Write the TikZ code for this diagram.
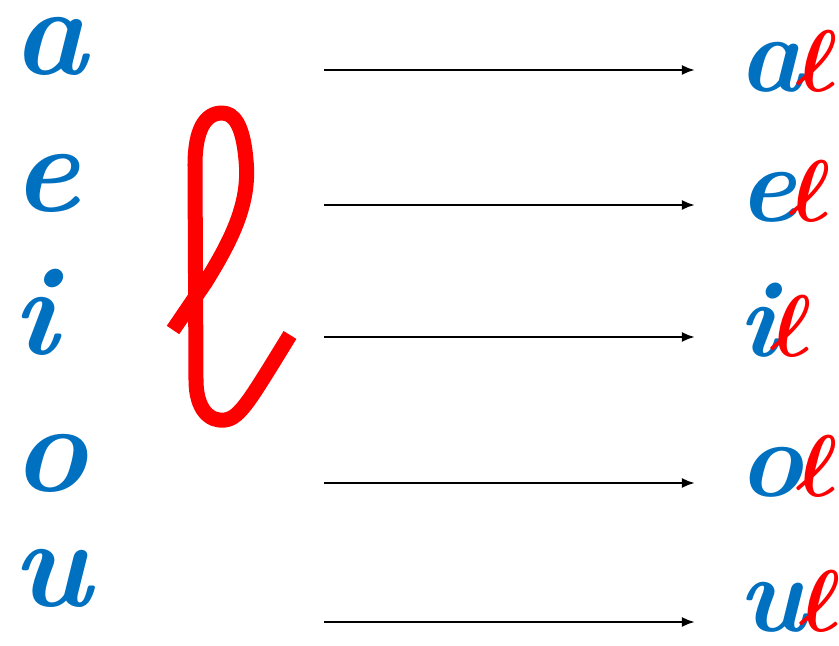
\documentclass[tikz,border=0pt]{standalone}
\usepackage{amsmath,amssymb}
\usetikzlibrary{arrows.meta,positioning}
\definecolor{vblue}{HTML}{0070C0}
\definecolor{lred}{HTML}{FF0000}
\tikzset{
  >=Latex,
  vowel/.style={
    text=vblue, anchor=base west, inner sep=0pt,
    font=\fontsize{36}{36}\selectfont\bfseries\itshape
  },
  syll/.style={
    text=vblue, anchor=base west, inner sep=0pt,
    font=\fontsize{31}{31}\selectfont\bfseries\itshape
  },
  arr/.style={-{Latex[length=1.3mm,width=1mm]}, line width=0.7pt, draw=black},
  bigl/.style={draw=lred, line width=0.15cm, line cap=butt, line join=round}
}
\newcommand{\redl}{\kern-2pt{\color{lred}\fontsize{25}{25}\selectfont$\boldsymbol{\ell}$}}

\begin{document}
\begin{tikzpicture}[x=0.01cm,y=-0.01cm]
  \useasboundingbox (0,0) rectangle (839,646);
  % vowels
  \node[vowel] (va) at (12,75) {a};
  \node[vowel] (ve) at (12,212) {e};
  \node[vowel] (vi) at (12,355) {i};
  \node[vowel] (vo) at (12,492) {o};
  \node[vowel] (vu) at (12,607) {u};
  % the big l
  \draw[bigl] (173,330) -- (205,283)
    .. controls (235,235) and (250,200) .. (246,160)
    .. controls (243,125) and (234,113) .. (222,113)
    .. controls (205,113) and (195,130) .. (195,165)
    -- (196,380)
    .. controls (196,410) and (210,422) .. (225,420)
    .. controls (240,418) and (250,400) .. (290,335);
  % arrows
  \coordinate (s1) at (324,70);  \coordinate (t1) at (695,70);
  \coordinate (s2) at (324,205); \coordinate (t2) at (695,205);
  \coordinate (s3) at (324,337); \coordinate (t3) at (695,337);
  \coordinate (s4) at (324,483); \coordinate (t4) at (695,483);
  \coordinate (s5) at (324,622); \coordinate (t5) at (695,622);
  \draw[arr] (s1) -- (t1);
  \draw[arr] (s2) -- (t2);
  \draw[arr] (s3) -- (t3);
  \draw[arr] (s4) -- (t4);
  \draw[arr] (s5) -- (t5);
  % syllables
  \node[syll] (sa) at (738,92) {a\redl};
  \node[syll] (se) at (738,222) {e\redl};
  \node[syll] (si) at (738,357) {i\redl};
  \node[syll] (so) at (738,497) {o\redl};
  \node[syll] (su) at (738,632) {u\redl};
\end{tikzpicture}
\end{document}
